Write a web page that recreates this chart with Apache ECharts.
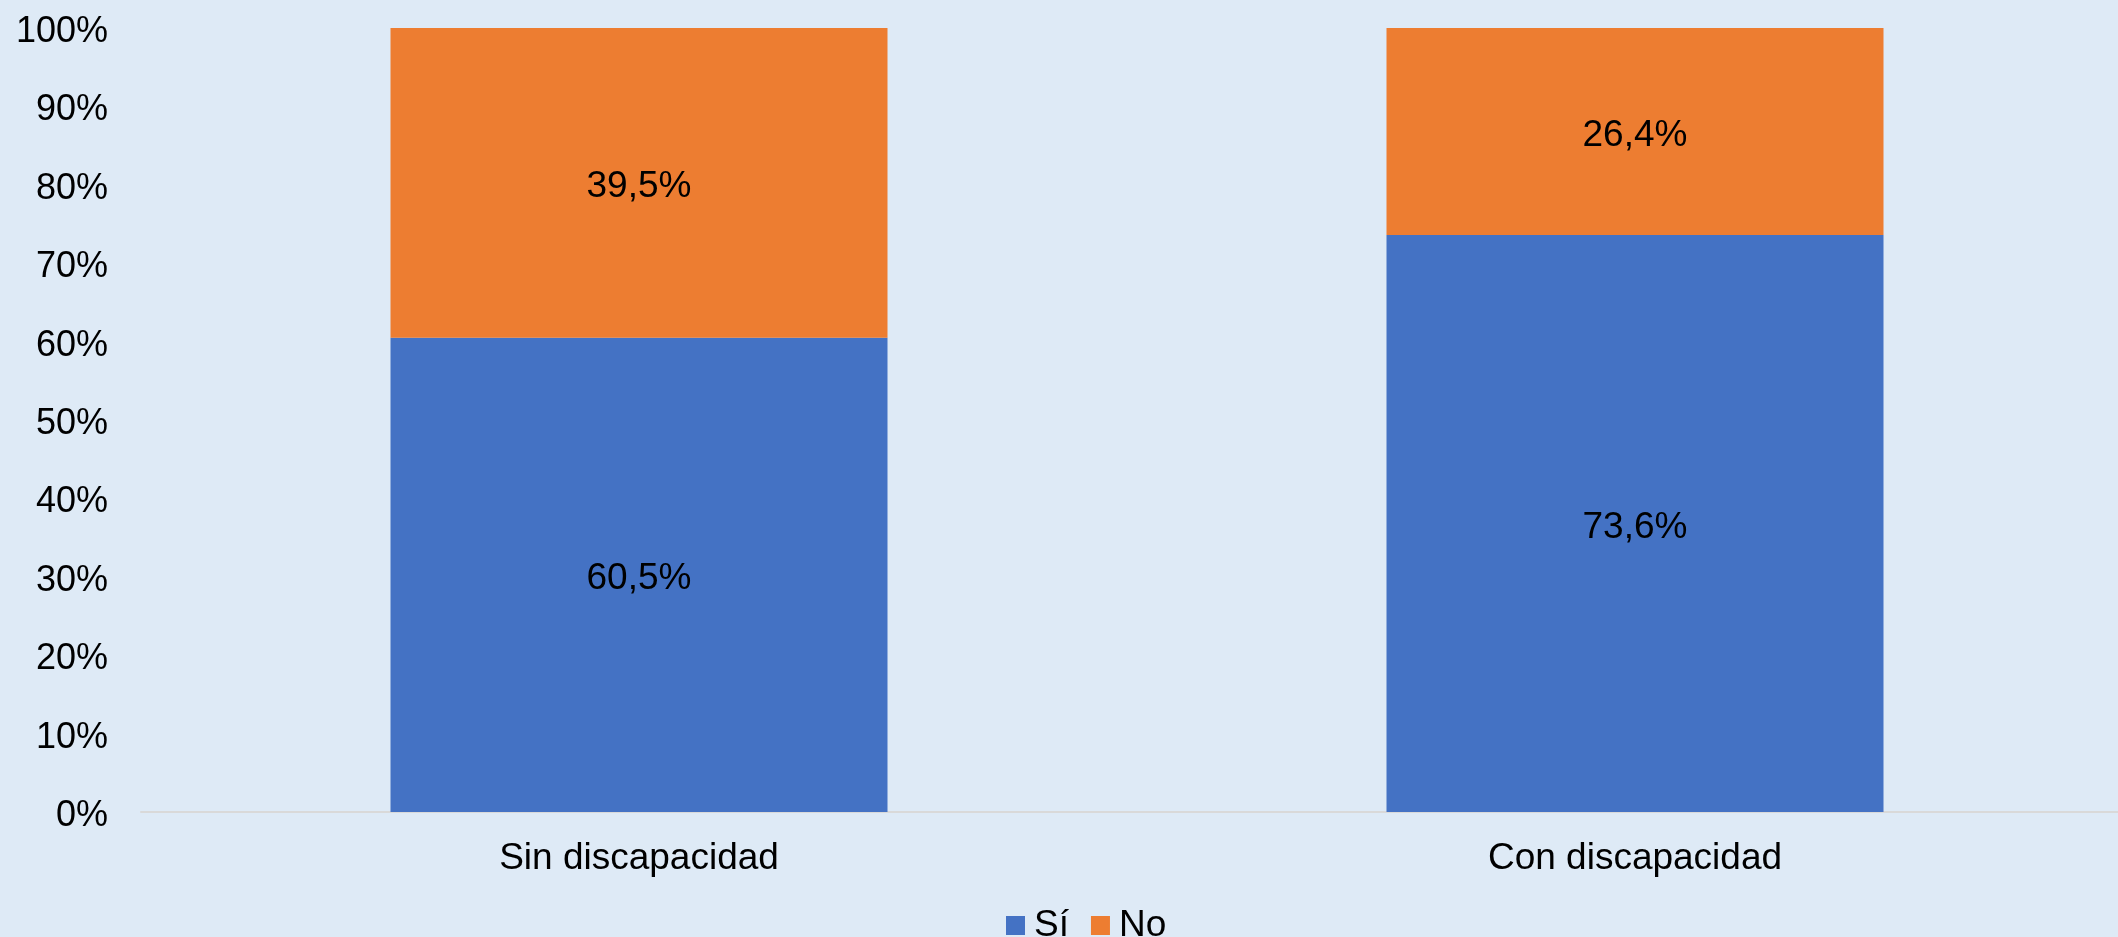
<!DOCTYPE html>
<html>
<head>
<meta charset="utf-8">
<script src="https://cdn.jsdelivr.net/npm/echarts@6/dist/echarts.min.js"></script>
<style>
html,body{margin:0;padding:0;background:#DEEAF6;}
#c{width:2118px;height:937px;}
</style>
</head>
<body>
<div id="c"></div>
<script>
const categories = ["Sin discapacidad", "Con discapacidad"];
const siValues = [60.5, 73.6];
const noValues = [39.5, 26.4];
const yTicks = [0, 10, 20, 30, 40, 50, 60, 70, 80, 90, 100];

const FONT = '"Liberation Sans", Arial, sans-serif';
const fmt = v => v.toFixed(1).replace('.', ',') + '%';

const chart = echarts.init(document.getElementById('c'), null, {renderer: 'canvas'});
chart.setOption({
  backgroundColor: '#DEEAF6',
  animation: false,
  grid: {left: 141, top: 28, width: 1992, height: 784, containLabel: false, outerBoundsMode: 'none'},
  legend: {
    data: ['Sí', 'No'],
    left: 1006, top: 907,
    padding: 0,
    itemWidth: 19, itemHeight: 19,
    itemGap: 22,
    icon: 'rect',
    textStyle: {fontFamily: FONT, fontSize: 37, color: '#000', padding: [0, 0, 0, 4]}
  },
  xAxis: {
    type: 'category',
    data: categories,
    axisLine: {lineStyle: {color: '#D9D9D9', width: 2}},
    axisTick: {show: false},
    axisLabel: {fontFamily: FONT, fontSize: 37, color: '#000', margin: 28}
  },
  yAxis: {
    type: 'value',
    min: 0, max: 100, interval: 10,
    axisLine: {show: false},
    axisTick: {show: false},
    splitLine: {show: false},
    axisLabel: {
      fontFamily: FONT, fontSize: 36, color: '#000', margin: 33,
      formatter: v => yTicks.includes(v) ? '{t|' + v + '%}' : '',
      rich: {t: {fontFamily: FONT, fontSize: 36, color: '#000', padding: [8, 0, 0, 0]}}
    }
  },
  series: [
    {
      name: 'Sí', type: 'bar', stack: 't', data: siValues, barWidth: 497,
      itemStyle: {color: '#4472C4'},
      label: {show: true, position: 'inside', offset: [0, 4], fontFamily: FONT, fontSize: 37, color: '#000', formatter: p => fmt(p.value)}
    },
    {
      name: 'No', type: 'bar', stack: 't', data: noValues, barWidth: 497,
      itemStyle: {color: '#ED7D31'},
      label: {show: true, position: 'inside', offset: [0, 4], fontFamily: FONT, fontSize: 37, color: '#000', formatter: p => fmt(p.value)}
    }
  ]
});
</script>
</body>
</html>
